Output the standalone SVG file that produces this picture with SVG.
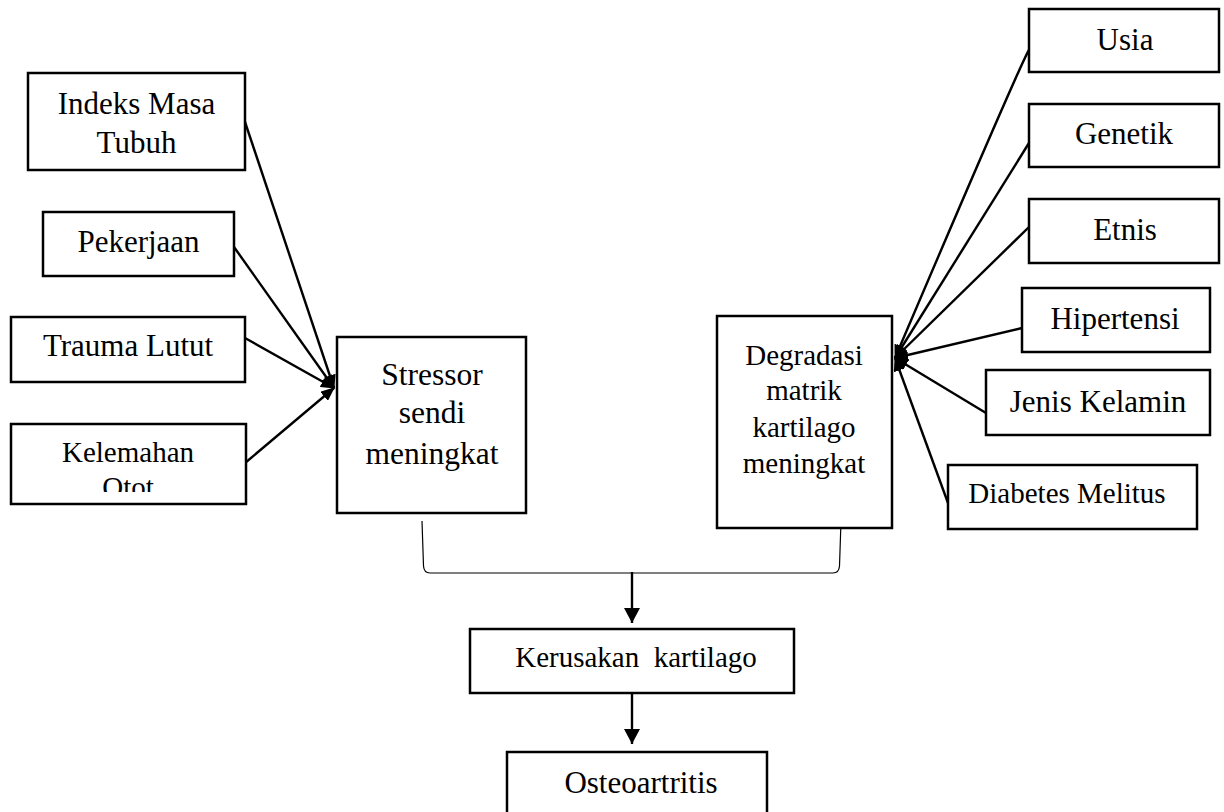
<svg xmlns="http://www.w3.org/2000/svg" width="1224" height="812" viewBox="0 0 1224 812">
<defs>
<style>
.box{fill:#fff;stroke:#000;stroke-width:2.5}
.t{font-family:"Liberation Serif","Times New Roman",serif;fill:#000;text-anchor:middle;font-size:31px}
.s29{font-size:29px}
.ln{stroke:#000;stroke-width:2.4;fill:none}
.br{stroke:#000;stroke-width:1.2;fill:none}
</style>
<marker id="ah" markerUnits="userSpaceOnUse" markerWidth="14" markerHeight="12" refX="13" refY="6" orient="auto">
<path d="M0,0 L14,6 L0,12 Z" fill="#000"/>
</marker>
<marker id="dn" markerUnits="userSpaceOnUse" markerWidth="16" markerHeight="15" refX="8" refY="15" orient="0">
<path d="M0,0 L16,0 L8,15 Z" fill="#000"/>
</marker>
<clipPath id="kc"><rect x="12" y="425" width="233" height="67"/></clipPath>
</defs>

<g id="connectors">
<line class="ln" x1="245" y1="122" x2="334" y2="388" marker-end="url(#ah)"/>
<line class="ln" x1="234" y1="247" x2="334" y2="388" marker-end="url(#ah)"/>
<line class="ln" x1="245" y1="338" x2="334" y2="388" marker-end="url(#ah)"/>
<line class="ln" x1="245" y1="463" x2="334" y2="388" marker-end="url(#ah)"/>
<path class="ln" d="M1029,50 Q1022,60 895,358" marker-end="url(#ah)"/>
<line class="ln" x1="1029" y1="143" x2="895" y2="358" marker-end="url(#ah)"/>
<line class="ln" x1="1029" y1="227" x2="895" y2="358" marker-end="url(#ah)"/>
<line class="ln" x1="1022" y1="328" x2="895" y2="358" marker-end="url(#ah)"/>
<line class="ln" x1="986" y1="413" x2="895" y2="358" marker-end="url(#ah)"/>
<line class="ln" x1="948" y1="503" x2="895" y2="358" marker-end="url(#ah)"/>
<path class="br" d="M422,521 L423.5,566 Q424,573 430,573 L833,573 Q839,573 839.5,566 L841,521"/>
<line class="ln" x1="632" y1="572" x2="632" y2="623" marker-end="url(#dn)"/>
<line class="ln" x1="632" y1="693" x2="632" y2="744" marker-end="url(#dn)"/>
</g>

<g id="n-indeks">
<rect class="box" x="28" y="73" width="217" height="97"/>
<text class="t" x="136.5" y="114">Indeks Masa</text>
<text class="t" x="136.5" y="153">Tubuh</text>
</g>
<g id="n-pekerjaan">
<rect class="box" x="43" y="212" width="191" height="64"/>
<text class="t" x="138.5" y="252">Pekerjaan</text>
</g>
<g id="n-trauma">
<rect class="box" x="11" y="317" width="234" height="65"/>
<text class="t" x="128" y="356">Trauma Lutut</text>
</g>
<g id="n-kelemahan">
<rect class="box" x="11" y="424" width="235" height="80"/>
<text class="t s29" x="128" y="462">Kelemahan</text>
<text class="t s29" x="128" y="497" clip-path="url(#kc)">Otot</text>
</g>
<g id="n-stressor">
<rect class="box" x="337" y="337" width="189" height="176"/>
<text class="t" x="432" y="385" style="font-size:31.5px">Stressor</text>
<text class="t" x="432" y="423" style="font-size:31.5px">sendi</text>
<text class="t" x="432" y="464" style="font-size:31.5px">meningkat</text>
</g>
<g id="n-degradasi">
<rect class="box" x="717" y="316" width="175" height="212"/>
<text class="t s29" x="804" y="365">Degradasi</text>
<text class="t s29" x="804" y="400">matrik</text>
<text class="t s29" x="804" y="437">kartilago</text>
<text class="t s29" x="804" y="473">meningkat</text>
</g>
<g id="n-usia">
<rect class="box" x="1029" y="9" width="190" height="63"/>
<text class="t" x="1125" y="50">Usia</text>
</g>
<g id="n-genetik">
<rect class="box" x="1029" y="104" width="190" height="63"/>
<text class="t" x="1124" y="144">Genetik</text>
</g>
<g id="n-etnis">
<rect class="box" x="1029" y="199" width="190" height="64"/>
<text class="t" x="1125" y="240">Etnis</text>
</g>
<g id="n-hipertensi">
<rect class="box" x="1022" y="288" width="188" height="64"/>
<text class="t" x="1115" y="329">Hipertensi</text>
</g>
<g id="n-jenis">
<rect class="box" x="986" y="370" width="224" height="65"/>
<text class="t" x="1098" y="412">Jenis Kelamin</text>
</g>
<g id="n-diabetes">
<rect class="box" x="948" y="465" width="249" height="64"/>
<text class="t s29" x="1067" y="503">Diabetes Melitus</text>
</g>
<g id="n-kerusakan">
<rect class="box" x="470" y="629" width="324" height="64"/>
<text class="t s29" x="636" y="667" xml:space="preserve">Kerusakan  kartilago</text>
</g>
<g id="n-osteo">
<rect class="box" x="507" y="752" width="260" height="80"/>
<text class="t" x="641" y="793">Osteoartritis</text>
</g>
</svg>
